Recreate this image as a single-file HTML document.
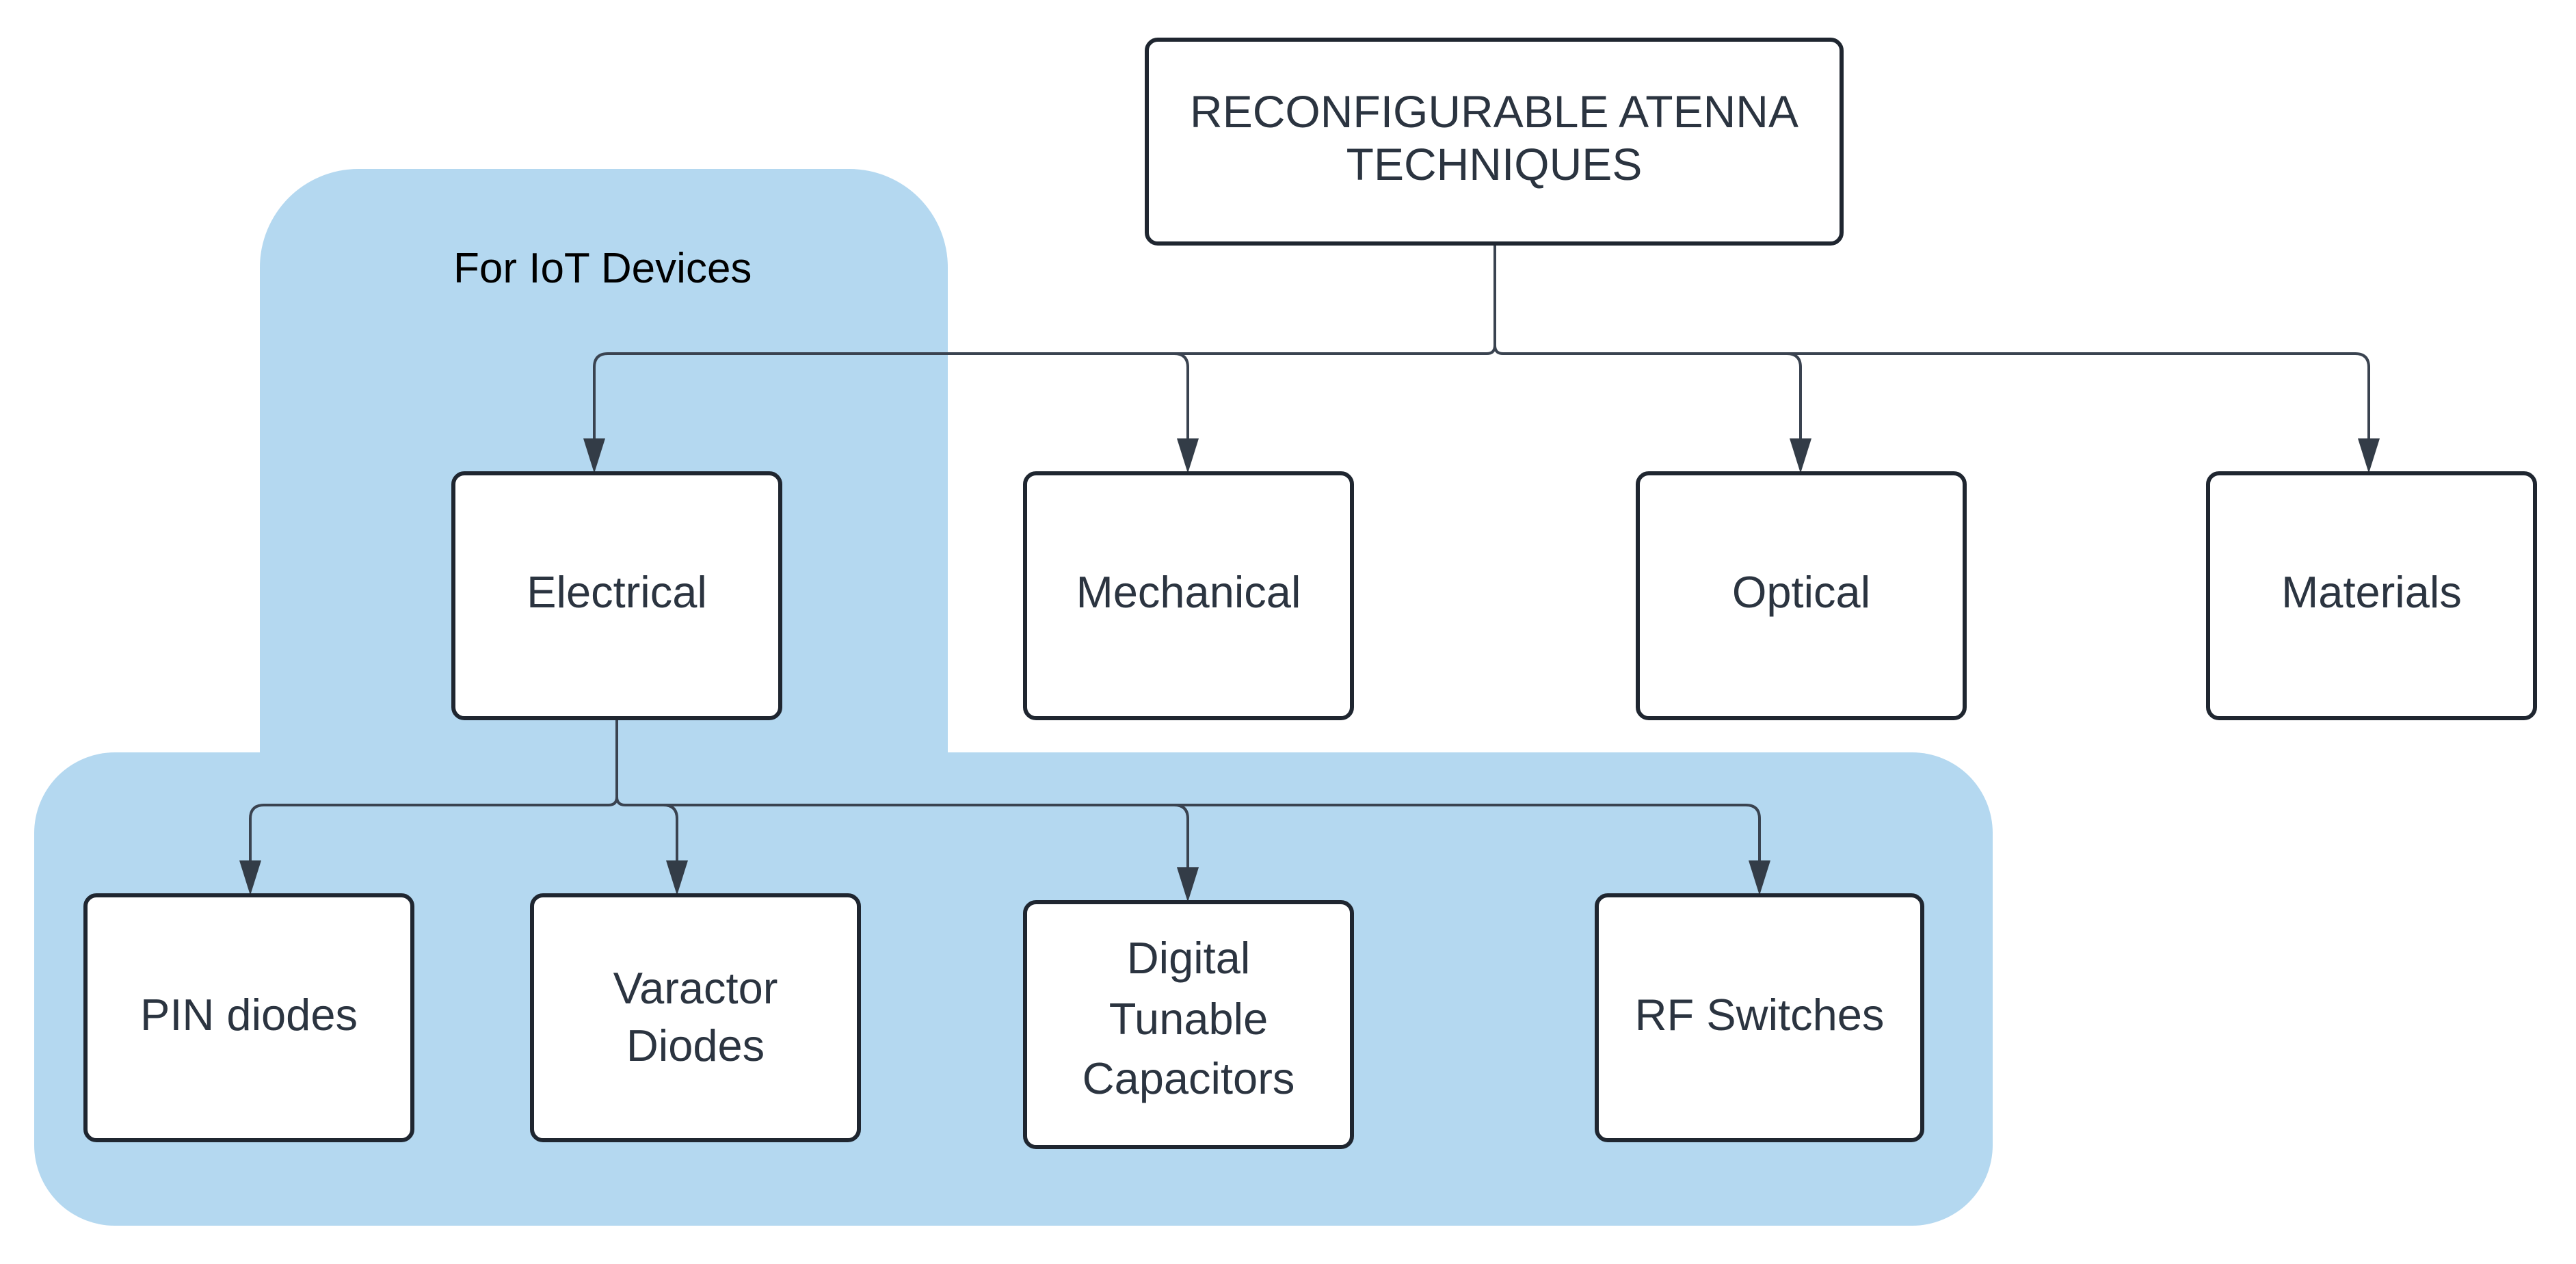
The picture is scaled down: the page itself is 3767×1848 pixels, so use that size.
<!DOCTYPE html>
<html><head><meta charset="utf-8"><style>
html,body{margin:0;padding:0;background:#fff;}
svg{display:block;}
text{font-family:"Liberation Sans",sans-serif;fill:#2b3440;}
</style></head><body>
<svg width="3767" height="1848" viewBox="0 0 3767 1848" xmlns="http://www.w3.org/2000/svg">
<rect x="380" y="247" width="1006" height="1000" rx="144" fill="#b4d8f0"/>
<rect x="50" y="1100" width="2864" height="692" rx="118" fill="#b4d8f0"/>

<g fill="none" stroke="#3a4350" stroke-width="4">
<path d="M2186 356 V505 Q2186 517 2174 517 H889 Q869 517 869 537 V648"/>
<path d="M2186 505 Q2186 517 2198 517 H3444 Q3464 517 3464 537 V648"/>
<path d="M1717 517 Q1737 517 1737 537 V648"/>
<path d="M2613 517 Q2633 517 2633 537 V648"/>
<path d="M902 1050 V1165 Q902 1177 890 1177 H386 Q366 1177 366 1197 V1265"/>
<path d="M902 1165 Q902 1177 914 1177 H2553 Q2573 1177 2573 1197 V1265"/>
<path d="M970 1177 Q990 1177 990 1197 V1265"/>
<path d="M1717 1177 Q1737 1177 1737 1197 V1275"/>
</g>
<g fill="#333c47">
<path d="M853 641 L885 641 L869 692 Z"/>
<path d="M1721 641 L1753 641 L1737 692 Z"/>
<path d="M2617 641 L2649 641 L2633 692 Z"/>
<path d="M3448 641 L3480 641 L3464 692 Z"/>
<path d="M350 1258 L382 1258 L366 1309 Z"/>
<path d="M974 1258 L1006 1258 L990 1309 Z"/>
<path d="M1721 1268 L1753 1268 L1737 1319 Z"/>
<path d="M2557 1258 L2589 1258 L2573 1309 Z"/>
</g>

<g fill="#fff" stroke="#1f2630" stroke-width="6">
<rect x="1677" y="58" width="1016" height="298" rx="16"/>
<rect x="663" y="692" width="478" height="358" rx="16"/>
<rect x="1499" y="692" width="478" height="358" rx="16"/>
<rect x="2395" y="692" width="478" height="358" rx="16"/>
<rect x="3229" y="692" width="478" height="358" rx="16"/>
<rect x="125" y="1309" width="478" height="358" rx="16"/>
<rect x="778" y="1309" width="478" height="358" rx="16"/>
<rect x="1499" y="1319" width="478" height="358" rx="16"/>
<rect x="2335" y="1309" width="476" height="358" rx="16"/>
</g>

<g font-size="65" text-anchor="middle">
<text x="2185" y="186" font-size="66">RECONFIGURABLE ATENNA</text>
<text x="2185" y="263" font-size="66">TECHNIQUES</text>
<text x="902" y="888">Electrical</text>
<text x="1738" y="888">Mechanical</text>
<text x="2634" y="888">Optical</text>
<text x="3468" y="888">Materials</text>
<text x="364" y="1506">PIN diodes</text>
<text x="1017" y="1467">Varactor</text>
<text x="1017" y="1551">Diodes</text>
<text x="1738" y="1423">Digital</text>
<text x="1738" y="1512">Tunable</text>
<text x="1738" y="1599">Capacitors</text>
<text x="2573" y="1506">RF Switches</text>
</g>
<text x="663" y="413" font-size="62" style="fill:#000">For IoT Devices</text>
</svg>
</body></html>
